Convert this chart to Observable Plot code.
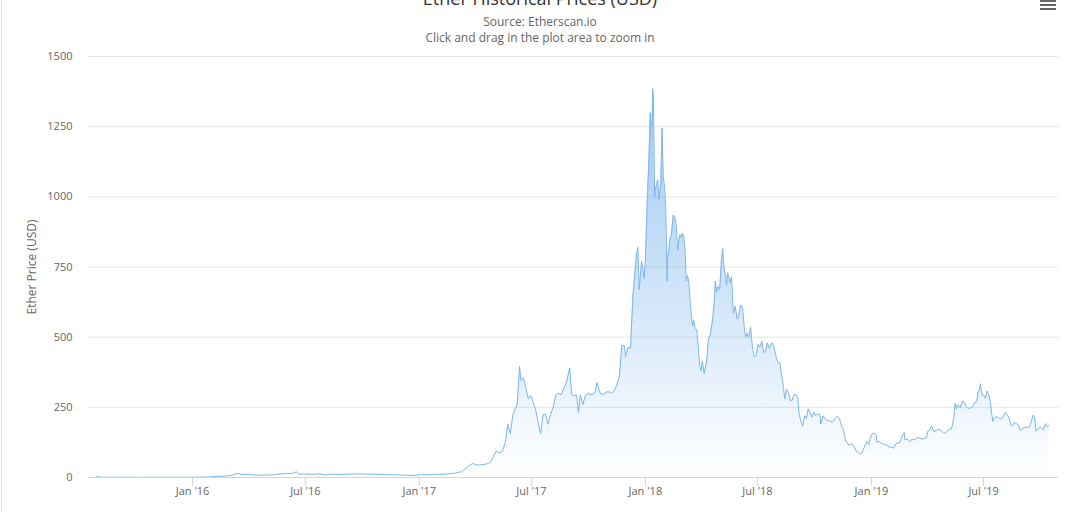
<!DOCTYPE html>
<html>
<head>
<meta charset="utf-8">
<script src="https://cdn.jsdelivr.net/npm/d3@7"></script>
<script src="https://cdn.jsdelivr.net/npm/@observablehq/plot@0.6"></script>
<style>
  html, body { margin: 0; padding: 0; background: #fff; }
  body { width: 1080px; height: 512px; overflow: hidden; position: relative; font-family: "Open Sans", "DejaVu Sans", sans-serif; }
  #header { position: relative; height: 46px; }
  #title { position: absolute; left: 0; width: 1080px; text-align: center; top: -11px; font-size: 18px; line-height: 18px; color: #333; white-space: nowrap; }
  .sub { position: absolute; left: 0; width: 1080px; text-align: center; font-size: 12px; line-height: 12px; color: #666; white-space: nowrap; }
  #sub1 { top: 16px; }
  #sub2 { top: 32px; }
  #menu { position: absolute; left: 1040px; top: 0px; width: 16px; }
  #menu div { height: 2px; background: #666; margin-bottom: 2px; }
  #leftborder { position: absolute; left: 1px; top: 0; width: 1px; height: 512px; background: #e3e3e3; }
  #chart svg { display: block; }
</style>
</head>
<body>
<div id="leftborder"></div>
<div id="header">
  <div id="title">Ether Historical Prices (USD)</div>
  <div class="sub" id="sub1">Source: Etherscan.io</div>
  <div class="sub" id="sub2">Click and drag in the plot area to zoom in</div>
  <div id="menu"><div></div><div></div><div></div></div>
</div>
<div id="chart"></div>
<script>
// ---- Data ----
const prices2015 = [
  ["2015-07-30", 2.8], ["2015-08-10", 0.7], ["2015-08-25", 1.2], ["2015-09-10", 1.0],
  ["2015-09-25", 0.8], ["2015-10-10", 0.6], ["2015-10-25", 0.9], ["2015-11-10", 1.0],
  ["2015-11-25", 0.9], ["2015-12-10", 0.85], ["2015-12-25", 0.9]
];
const prices2016 = [
  ["2016-01-05", 1.0], ["2016-01-20", 1.5], ["2016-01-31", 2.2], ["2016-02-10", 4.3],
  ["2016-02-20", 4.5], ["2016-02-29", 6.5], ["2016-03-07", 10], ["2016-03-13", 15],
  ["2016-03-20", 10.5], ["2016-03-31", 11.4], ["2016-04-10", 8.5], ["2016-04-20", 8.4],
  ["2016-04-30", 8.8], ["2016-05-10", 9.5], ["2016-05-20", 12.5], ["2016-05-31", 14],
  ["2016-06-10", 14.5], ["2016-06-17", 20.5], ["2016-06-20", 11.8], ["2016-06-30", 12.5],
  ["2016-07-10", 11], ["2016-07-20", 12.5], ["2016-07-25", 13.5], ["2016-08-02", 8.5],
  ["2016-08-10", 12], ["2016-08-25", 11], ["2016-09-10", 12], ["2016-09-25", 13],
  ["2016-10-10", 12], ["2016-10-25", 11.5], ["2016-11-10", 10.5], ["2016-11-25", 9.2],
  ["2016-12-10", 8.2], ["2016-12-25", 7.2]
];
const prices2017 = [
  ["2017-01-05", 10.5], ["2017-01-15", 9.8], ["2017-01-25", 10.5], ["2017-02-05", 11.3],
  ["2017-02-15", 12.8], ["2017-02-25", 14.5], ["2017-03-05", 19], ["2017-03-10", 19.5],
  ["2017-03-14", 28.5], ["2017-03-18", 34], ["2017-03-22", 42], ["2017-03-28", 50],
  ["2017-04-05", 44], ["2017-04-12", 46], ["2017-04-20", 48], ["2017-04-26", 54],
  ["2017-05-01", 77], ["2017-05-05", 93], ["2017-05-10", 88], ["2017-05-15", 92],
  ["2017-05-20", 125], ["2017-05-24", 190], ["2017-05-28", 155], ["2017-06-01", 222],
  ["2017-06-05", 245], ["2017-06-08", 258], ["2017-06-12", 395], ["2017-06-14", 345],
  ["2017-06-18", 355], ["2017-06-22", 320], ["2017-06-26", 280], ["2017-06-30", 292],
  ["2017-07-04", 268], ["2017-07-08", 240], ["2017-07-12", 195], ["2017-07-16", 155],
  ["2017-07-20", 225], ["2017-07-24", 225], ["2017-07-28", 190], ["2017-08-01", 225],
  ["2017-08-05", 250], ["2017-08-10", 295], ["2017-08-14", 300], ["2017-08-18", 295],
  ["2017-08-22", 315], ["2017-08-26", 335], ["2017-09-01", 390], ["2017-09-04", 295],
  ["2017-09-08", 290], ["2017-09-12", 295], ["2017-09-15", 230], ["2017-09-18", 295],
  ["2017-09-22", 260], ["2017-09-26", 290], ["2017-09-30", 300], ["2017-10-05", 295],
  ["2017-10-09", 297], ["2017-10-12", 305], ["2017-10-15", 338], ["2017-10-20", 300],
  ["2017-10-25", 296], ["2017-10-30", 305], ["2017-11-03", 305], ["2017-11-08", 300],
  ["2017-11-12", 310], ["2017-11-16", 330], ["2017-11-20", 360], ["2017-11-24", 470],
  ["2017-11-28", 470], ["2017-11-30", 430], ["2017-12-04", 465], ["2017-12-08", 460],
  ["2017-12-12", 650], ["2017-12-14", 700], ["2017-12-18", 800], ["2017-12-20", 820],
  ["2017-12-22", 670], ["2017-12-26", 770], ["2017-12-30", 710]
];
const prices2018 = [
  ["2018-01-01", 770], ["2018-01-04", 980], ["2018-01-07", 1150], ["2018-01-09", 1300],
  ["2018-01-10", 1255], ["2018-01-12", 1270], ["2018-01-13", 1385], ["2018-01-14", 1350],
  ["2018-01-16", 1000], ["2018-01-17", 1030], ["2018-01-19", 1040], ["2018-01-21", 1060],
  ["2018-01-23", 990], ["2018-01-26", 1050], ["2018-01-28", 1245], ["2018-01-30", 1070],
  ["2018-02-01", 1035], ["2018-02-03", 965], ["2018-02-05", 700], ["2018-02-06", 785],
  ["2018-02-08", 815], ["2018-02-10", 850], ["2018-02-12", 865], ["2018-02-15", 935],
  ["2018-02-18", 925], ["2018-02-20", 895], ["2018-02-22", 810], ["2018-02-24", 845],
  ["2018-02-26", 865], ["2018-02-28", 855], ["2018-03-02", 870], ["2018-03-04", 860],
  ["2018-03-06", 815], ["2018-03-08", 700], ["2018-03-10", 720], ["2018-03-12", 700],
  ["2018-03-15", 610], ["2018-03-18", 540], ["2018-03-20", 560], ["2018-03-22", 535],
  ["2018-03-25", 525], ["2018-03-28", 445], ["2018-03-30", 395], ["2018-04-01", 380],
  ["2018-04-03", 415], ["2018-04-06", 370], ["2018-04-10", 415], ["2018-04-13", 495],
  ["2018-04-16", 510], ["2018-04-20", 570], ["2018-04-22", 620], ["2018-04-24", 700],
  ["2018-04-26", 660], ["2018-04-28", 680], ["2018-05-01", 670], ["2018-05-04", 780],
  ["2018-05-06", 815], ["2018-05-08", 750], ["2018-05-10", 725], ["2018-05-12", 685],
  ["2018-05-14", 730], ["2018-05-16", 710], ["2018-05-18", 695], ["2018-05-20", 715],
  ["2018-05-23", 585], ["2018-05-26", 610], ["2018-05-29", 565], ["2018-06-01", 580],
  ["2018-06-04", 615], ["2018-06-07", 605], ["2018-06-10", 525], ["2018-06-12", 500],
  ["2018-06-14", 515], ["2018-06-17", 500], ["2018-06-20", 535], ["2018-06-23", 460],
  ["2018-06-26", 430], ["2018-06-29", 435], ["2018-07-02", 475], ["2018-07-05", 465],
  ["2018-07-08", 485], ["2018-07-11", 445], ["2018-07-14", 450], ["2018-07-17", 480],
  ["2018-07-20", 460], ["2018-07-24", 480], ["2018-07-27", 470], ["2018-07-31", 430],
  ["2018-08-03", 410], ["2018-08-06", 410], ["2018-08-09", 365], ["2018-08-12", 320],
  ["2018-08-14", 280], ["2018-08-17", 315], ["2018-08-20", 300], ["2018-08-23", 275],
  ["2018-08-26", 275], ["2018-08-29", 295], ["2018-09-01", 295], ["2018-09-04", 285],
  ["2018-09-06", 230], ["2018-09-09", 200], ["2018-09-12", 183], ["2018-09-15", 220],
  ["2018-09-18", 210], ["2018-09-21", 245], ["2018-09-24", 230], ["2018-09-27", 215],
  ["2018-09-30", 232], ["2018-10-03", 220], ["2018-10-06", 225], ["2018-10-10", 225],
  ["2018-10-11", 190], ["2018-10-15", 220], ["2018-10-20", 205], ["2018-10-25", 202],
  ["2018-10-30", 197], ["2018-11-03", 210], ["2018-11-07", 218], ["2018-11-10", 212],
  ["2018-11-14", 182], ["2018-11-16", 175], ["2018-11-19", 148], ["2018-11-20", 130],
  ["2018-11-23", 125], ["2018-11-25", 115], ["2018-11-28", 120], ["2018-12-01", 118],
  ["2018-12-05", 106], ["2018-12-08", 92], ["2018-12-11", 90], ["2018-12-14", 84],
  ["2018-12-16", 85], ["2018-12-19", 100], ["2018-12-22", 116], ["2018-12-25", 128],
  ["2018-12-28", 117], ["2018-12-30", 140]
];
const prices2019 = [
  ["2019-01-02", 155], ["2019-01-06", 157], ["2019-01-09", 150], ["2019-01-10", 126],
  ["2019-01-14", 128], ["2019-01-18", 120], ["2019-01-22", 118], ["2019-01-26", 115],
  ["2019-01-30", 108], ["2019-02-03", 108], ["2019-02-06", 104], ["2019-02-09", 120],
  ["2019-02-12", 122], ["2019-02-16", 125], ["2019-02-19", 145], ["2019-02-23", 160],
  ["2019-02-24", 135], ["2019-02-28", 137], ["2019-03-04", 127], ["2019-03-08", 137],
  ["2019-03-12", 133], ["2019-03-16", 143], ["2019-03-20", 140], ["2019-03-24", 137],
  ["2019-03-28", 140], ["2019-03-31", 142], ["2019-04-02", 165], ["2019-04-05", 168],
  ["2019-04-08", 183], ["2019-04-12", 163], ["2019-04-16", 168], ["2019-04-20", 172],
  ["2019-04-24", 166], ["2019-04-28", 157], ["2019-05-02", 162], ["2019-05-06", 172],
  ["2019-05-10", 173], ["2019-05-12", 188], ["2019-05-14", 216], ["2019-05-16", 264],
  ["2019-05-18", 245], ["2019-05-20", 260], ["2019-05-24", 248], ["2019-05-28", 272],
  ["2019-05-31", 268], ["2019-06-03", 253], ["2019-06-06", 247], ["2019-06-10", 247],
  ["2019-06-14", 256], ["2019-06-17", 268], ["2019-06-20", 270], ["2019-06-22", 306],
  ["2019-06-24", 310], ["2019-06-26", 334], ["2019-06-28", 294], ["2019-06-30", 294],
  ["2019-07-02", 292], ["2019-07-04", 282], ["2019-07-07", 308], ["2019-07-10", 288],
  ["2019-07-12", 268], ["2019-07-14", 228], ["2019-07-16", 200], ["2019-07-18", 210],
  ["2019-07-21", 216], ["2019-07-24", 215], ["2019-07-27", 208], ["2019-07-30", 210],
  ["2019-08-02", 218], ["2019-08-05", 232], ["2019-08-08", 222], ["2019-08-11", 216],
  ["2019-08-14", 188], ["2019-08-17", 185], ["2019-08-20", 196], ["2019-08-23", 193],
  ["2019-08-26", 188], ["2019-08-29", 170], ["2019-09-01", 172], ["2019-09-04", 178],
  ["2019-09-07", 178], ["2019-09-10", 180], ["2019-09-13", 180], ["2019-09-16", 198],
  ["2019-09-19", 222], ["2019-09-21", 215], ["2019-09-24", 165], ["2019-09-27", 172],
  ["2019-09-30", 180], ["2019-10-03", 174], ["2019-10-06", 170], ["2019-10-09", 192],
  ["2019-10-12", 180], ["2019-10-14", 186]
];
const yTicks = [0, 250, 500, 750, 1000, 1250, 1500];
const xTickDates = ["2016-01-01", "2016-07-01", "2017-01-01", "2017-07-01",
                    "2018-01-01", "2018-07-01", "2019-01-01", "2019-07-01"];
const xDomain = ["2015-07-17", "2019-10-30"];

// ---- Build table ----
const data = [...prices2015, ...prices2016, ...prices2017, ...prices2018, ...prices2019]
  .map(([d, p]) => ({date: new Date(d + "T00:00:00Z"), price: p}));
const xTicks = xTickDates.map(d => new Date(d + "T00:00:00Z"));
const fmt = d3.utcFormat("%b '%y");

const svg = Plot.plot({
  width: 1080,
  height: 466,
  marginLeft: 88,
  marginRight: 22,
  marginTop: 10,
  marginBottom: 35,
  style: {fontFamily: "'Open Sans', 'DejaVu Sans', sans-serif", fontSize: "11px", color: "#666", background: "#fff"},
  x: {type: "utc", domain: xDomain.map(d => new Date(d + "T00:00:00Z"))},
  y: {domain: [0, 1500]},
  marks: [
    Plot.gridY(yTicks, {stroke: "#e6e6e6", strokeOpacity: 1}),
    Plot.areaY(data, {x: "date", y: "price", fill: "url(#ethGrad)", curve: "linear"}),
    Plot.lineY(data, {x: "date", y: "price", stroke: "#7cb5ec", strokeWidth: 1}),
    Plot.ruleY([0], {stroke: "#ccd6eb"}),
    Plot.axisX(xTicks, {tickSize: 9, tickPadding: 1, stroke: "#ccd6eb", fill: "#666", tickFormat: fmt, label: null}),
    Plot.axisY(yTicks, {tickSize: 0, tickPadding: 16, fill: "#666", tickFormat: d => String(d), label: "Ether Price (USD)", labelAnchor: "center", labelArrow: "none", labelOffset: 61})
  ]
});

d3.select(svg).selectAll('[aria-label="y-axis label"] text, [aria-label="y-axis label"]')
  .style("font-size", "12px");

const defs = d3.select(svg).insert("defs", ":first-child");
const lg = defs.append("linearGradient").attr("id", "ethGrad")
  .attr("x1", 0).attr("y1", 0).attr("x2", 0).attr("y2", 1);
lg.append("stop").attr("offset", 0).attr("stop-color", "#7cb5ec").attr("stop-opacity", 0.75);
lg.append("stop").attr("offset", 1).attr("stop-color", "#7cb5ec").attr("stop-opacity", 0);

document.getElementById("chart").appendChild(svg);
</script>
</body>
</html>
